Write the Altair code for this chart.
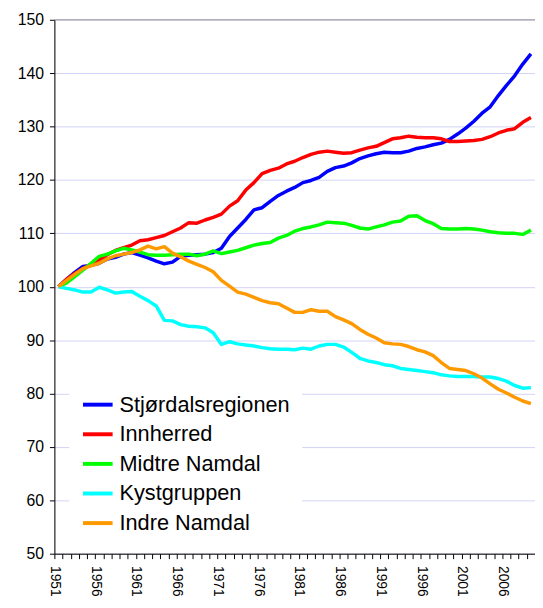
import altair as alt
import pandas as pd

years = list(range(1951, 2010))

series_names = ["Stjørdalsregionen", "Innherred", "Midtre Namdal", "Kystgruppen", "Indre Namdal"]
series_colors = ["#0000FF", "#FF0000", "#00FF00", "#00FFFF", "#FF9900"]

stjordal = [100, 101.4, 102.7, 103.8, 104.0, 104.4, 105.2, 105.5, 106.1, 106.4,
            105.9, 105.4, 104.8, 104.3, 104.6, 105.7, 105.9, 106.0, 106.1, 106.4,
            107.2, 109.4, 111.0, 112.6, 114.4, 114.8, 116.0, 117.1, 117.9, 118.6,
            119.5, 119.9, 120.5, 121.6, 122.3, 122.6, 123.2, 124.0, 124.5, 124.9,
            125.2, 125.1, 125.1, 125.4, 125.9, 126.2, 126.6, 126.9, 127.6, 128.6,
            129.7, 131.0, 132.5, 133.7, 135.8, 137.7, 139.5, 141.7, 143.6]
innherred = [100, 101.4, 102.5, 103.4, 104.2, 105.1, 106.0, 106.8, 107.3, 107.8,
             108.6, 108.8, 109.2, 109.6, 110.3, 111.0, 112.0, 111.9, 112.5, 113.0,
             113.6, 115.1, 116.1, 118.1, 119.5, 121.2, 121.8, 122.2, 123.0, 123.5,
             124.2, 124.8, 125.2, 125.4, 125.2, 125.0, 125.1, 125.6, 126.0, 126.3,
             127.0, 127.7, 127.9, 128.2, 128.0, 127.9, 127.9, 127.7, 127.2, 127.2,
             127.3, 127.4, 127.6, 128.1, 128.8, 129.3, 129.6, 130.8, 131.7]
midtre = [100, 100.7, 101.9, 103.1, 104.4, 105.7, 106.1, 106.7, 107.2, 106.9,
          106.5, 106.0, 105.9, 105.9, 106.0, 106.1, 106.1, 105.8, 106.1, 106.7,
          106.2, 106.5, 106.8, 107.3, 107.8, 108.1, 108.3, 109.1, 109.6, 110.4,
          110.9, 111.2, 111.6, 112.1, 112.0, 111.9, 111.5, 111.0, 110.8, 111.2,
          111.6, 112.1, 112.3, 113.2, 113.3, 112.4, 111.8, 110.9, 110.8, 110.8,
          110.9, 110.8, 110.6, 110.3, 110.1, 110.0, 110.0, 109.8, 110.6]
kyst = [100, 99.7, 99.4, 99.0, 99.0, 99.9, 99.4, 98.8, 99.0, 99.1,
        98.2, 97.4, 96.4, 93.7, 93.6, 92.9, 92.6, 92.5, 92.3, 91.4,
        89.2, 89.7, 89.3, 89.1, 88.9, 88.6, 88.4, 88.3, 88.3, 88.2,
        88.5, 88.3, 88.9, 89.2, 89.2, 88.7, 87.7, 86.6, 86.1, 85.8,
        85.4, 85.2, 84.7, 84.5, 84.3, 84.1, 83.9, 83.5, 83.3, 83.2,
        83.2, 83.2, 83.1, 83.1, 82.8, 82.3, 81.5, 81.0, 81.1]
indre = [100, 101.2, 102.3, 103.4, 103.9, 104.4, 105.2, 105.8, 106.1, 106.4,
         106.9, 107.6, 107.1, 107.5, 106.3, 105.6, 104.8, 104.2, 103.6, 102.8,
         101.2, 100.1, 99.0, 98.6, 98.0, 97.4, 97.0, 96.8, 96.0, 95.2,
         95.2, 95.7, 95.4, 95.4, 94.4, 93.8, 93.1, 92.0, 91.1, 90.4,
         89.5, 89.3, 89.2, 88.8, 88.2, 87.8, 87.1, 85.8, 84.7, 84.5,
         84.3, 83.7, 82.9, 81.8, 80.8, 80.1, 79.3, 78.6, 78.1]

y_ticks = list(range(50, 151, 10))
x_tick_values = [1950.5 + k for k in range(60)]

all_series = [stjordal, innherred, midtre, kyst, indre]
rows = []
for order, (name, vals) in enumerate(zip(series_names, all_series)):
    for yr, v in zip(years, vals):
        rows.append({"year": yr, "value": v, "region": name, "ord": order})
df = pd.DataFrame(rows)

FONT = "Liberation Sans"

x_scale = alt.Scale(domain=[1950.5, 2009.5], nice=False, zero=False)
y_scale = alt.Scale(domain=[50, 150], nice=False, zero=False)

lines = alt.Chart(df).mark_line(strokeWidth=3.5, strokeJoin="round").encode(
    x=alt.X("year:Q", scale=x_scale, title=None,
            axis=alt.Axis(values=x_tick_values,
                          labelExpr="(datum.value - 1950.5) % 5 == 0 ? toString(datum.value + 0.5) : ''",
                          labelAngle=90, labelFontSize=14, labelFont=FONT, labelColor="black",
                          labelOverlap=False, labelFlush=False, labelPadding=7,
                          tickSize=5, tickColor="black", domainColor="black",
                          grid=False)),
    y=alt.Y("value:Q", scale=y_scale, title=None,
            axis=alt.Axis(values=y_ticks, labelFontSize=16, labelFont=FONT, labelColor="black",
                          labelPadding=6, tickSize=5, tickColor="black", domainColor="black",
                          grid=True, gridColor="#D2D2F8", gridWidth=1)),
    color=alt.Color("region:N",
                    scale=alt.Scale(domain=series_names, range=series_colors),
                    legend=alt.Legend(title=None, orient="none", legendX=15, legendY=361,
                                      fillColor="white", padding=12,
                                      symbolType="stroke", symbolSize=900, symbolStrokeWidth=4,
                                      labelFont=FONT, labelFontSize=22, labelColor="black",
                                      labelOffset=5, rowPadding=2, labelLimit=400)),
    order=alt.Order("ord:Q"),
    detail="region:N",
)

top_line = alt.Chart(pd.DataFrame({"v": [150]})).mark_rule(color="#999999", strokeWidth=1).encode(
    y=alt.Y("v:Q", scale=y_scale)
)

chart = alt.layer(lines, top_line).properties(
    width=487, height=541,
    padding={"left": 47, "top": 8, "right": 0, "bottom": 43},
    autosize=alt.AutoSizeParams(type="none"),
    background="white",
).configure_view(stroke=None).configure(font=FONT)

chart.save("out.html", embed_options={"renderer": "svg", "actions": False})
